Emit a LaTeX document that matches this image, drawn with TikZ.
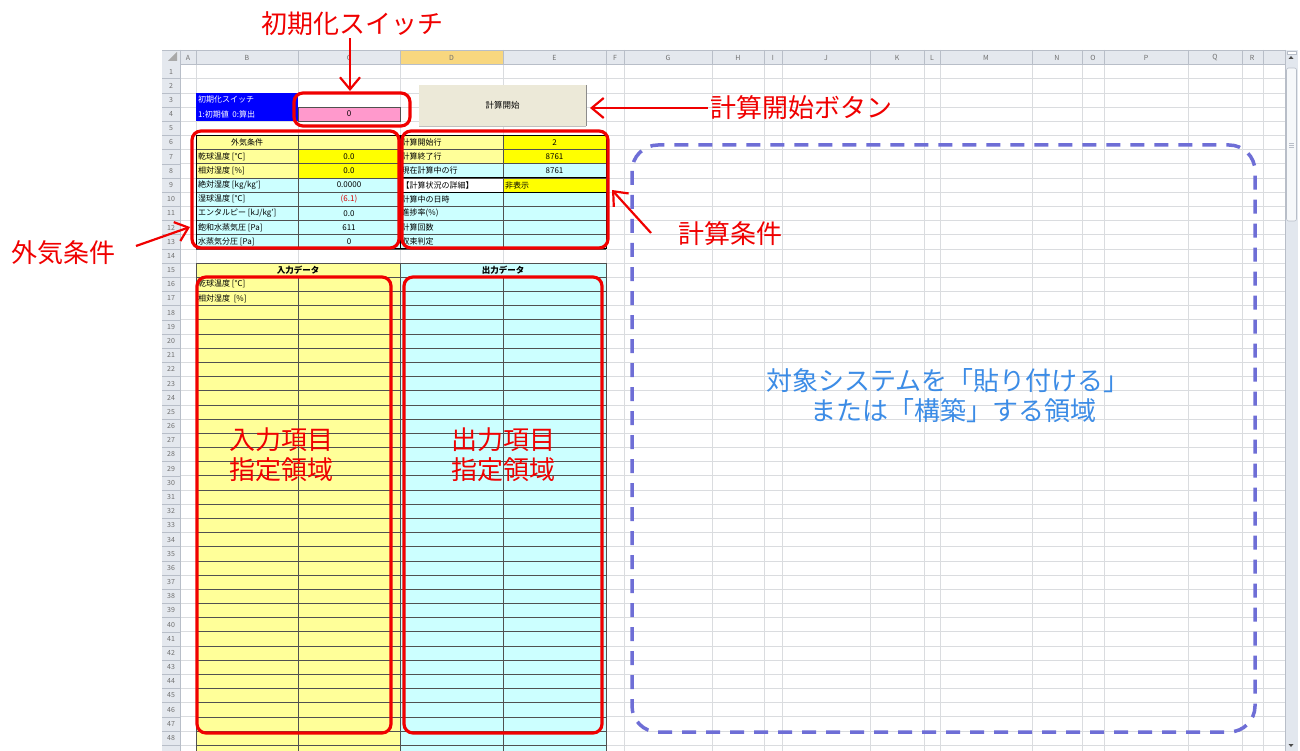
\documentclass[tikz,border=0pt]{standalone}
\usepackage{fontspec}
\setmainfont{Noto Sans CJK JP}
\usetikzlibrary{arrows.meta}
\definecolor{ly}{HTML}{FFFF99}
\definecolor{yy}{HTML}{FFFF00}
\definecolor{lc}{HTML}{CCFFFF}
\definecolor{pk}{HTML}{FF99CC}
\definecolor{bl}{HTML}{0000FF}
\definecolor{btnc}{HTML}{ECE9D8}
\definecolor{gridc}{HTML}{DADCDF}
\definecolor{hdr}{HTML}{E4E8EE}
\definecolor{hdrsel}{HTML}{F8D77F}
\definecolor{hdrline}{HTML}{B8BEC8}
\definecolor{annred}{HTML}{F00000}
\definecolor{dashc}{HTML}{6E6ED6}
\definecolor{txtblue}{HTML}{3C8CE6}
\definecolor{cellline}{HTML}{505050}
\definecolor{numc}{HTML}{707070}
\definecolor{sbar}{HTML}{E2E7EE}
\begin{document}
\begin{tikzpicture}[x=1pt,y=-1pt,
  grid/.style={draw=gridc, line width=0.6pt},
  cline/.style={draw=cellline, line width=0.6pt},
  ct/.style={inner sep=0pt, font=\fontsize{8}{9}\selectfont},
  ctl/.style={ct, anchor=west},
  rownum/.style={inner sep=0pt, text=numc, font=\fontsize{7}{8}\selectfont},
  redbox/.style={draw=annred, line width=3.2pt, rounded corners=9pt},
  arr/.style={draw=annred, line width=2.2pt, -{Straight Barb[length=12pt,width=20pt]}},
  ann/.style={text=annred, font=\fontsize{26}{30}\selectfont, inner sep=2pt, align=center},
  btnst/.style={fill=btnc, minimum width=167pt, minimum height=41pt, inner sep=0pt, font=\fontsize{8.5}{9}\selectfont}
]
\useasboundingbox (0,0) rectangle (1300,751);
\fill[white] (0,0) rectangle (1300,751);
\begin{scope}
\clip (162,50) rectangle (1298,751);
% sheet grid
\foreach \k in {0,...,49} \draw[grid] (180,{64.5+\k*14.18}) -- (1285,{64.5+\k*14.18});
\foreach \x in {180,196,298,400,503,606,624,712,764,782,870,924,940,1032,1082,1104,1188,1242,1263}
  \draw[grid] (\x,64.5) -- (\x,751);
% header row
\fill[hdr] (162,50) rectangle (1285,64.5);
\fill[hdrsel] (400,50) rectangle (503,64.5);
\draw[hdrline, line width=0.6pt] (162,64.5) -- (1285,64.5);
\draw[hdrline, line width=0.6pt] (162,50.3) -- (1285,50.3);
\foreach \x in {180,196,298,400,503,606,624,712,764,782,870,924,940,1032,1082,1104,1188,1242,1263}
  \draw[hdrline, line width=0.5pt] (\x,50) -- (\x,64.5);
\foreach \l/\x in {A/188,B/247,C/349,D/451.5,E/554.5,F/615,G/668,H/738,I/773,J/826,K/897,L/932,M/986,N/1057,O/1093,P/1146,Q/1215,R/1252}
  \node[rownum] (ch\l) at (\x,57.5) {\l};
% row-number column
\fill[hdr] (162,64.5) rectangle (180,751);
\draw[hdrline, line width=0.6pt] (180,50) -- (180,751);
\foreach \k in {1,...,49} \draw[hdrline, line width=0.4pt] (162,{64.5+\k*14.18}) -- (180,{64.5+\k*14.18});
\foreach \k in {1,...,48} \node[rownum] (rn\k) at (171,{64.5+(\k-0.5)*14.18}) {\k};
\fill[numc!60] (177,52) -- (177,61) -- (168,61) -- cycle;
% scrollbar
\fill[sbar] (1285,50) rectangle (1298,751);
\draw[hdrline, line width=0.5pt] (1285,50) -- (1285,751);
\draw[hdrline, fill=white, line width=0.5pt] (1287,51.5) rectangle (1296,54.5);
\draw[hdrline, fill=white!70!sbar, line width=0.6pt, rounded corners=2pt] (1286.5,68) rectangle (1296.5,221);
\draw[hdrline, line width=0.6pt] (1289,143) -- (1294,143) (1289,145) -- (1294,145) (1289,147) -- (1294,147);
\fill[black!70] (1288.5,59) -- (1293.5,59) -- (1291,56) -- cycle;
\fill[black!70] (1288.5,744) -- (1293.5,744) -- (1291,747) -- cycle;
% ---------- cells rows 3-4
\fill[bl] (196,{64.5+2*14.18}) rectangle (298,{64.5+4*14.18});
\fill[white] (298,{64.5+2*14.18}) rectangle (400,{64.5+3*14.18});
\draw[cline, fill=pk] (298,{64.5+3*14.18}) rectangle (400,{64.5+4*14.18});
\node[ctl, text=white] (tB3) at (198,{64.5+2.5*14.18}) {初期化スイッチ};
\node[ctl, text=white] (tB4) at (198,{64.5+3.5*14.18}) {1:初期値\ \ 0:算出};
\node[ct] (tC4) at (349,{64.5+3.5*14.18}) {0};
% button
\node[btnst] (btn) at (502.5,105.5) {計算開始};
\draw[black!45, line width=1pt] (586,85) -- (586,126);
\draw[black!25, line width=0.8pt] (419,126) -- (586,126);
% ---------- table rows 6-13
\foreach \xa/\xb/\r/\col in {196/298/6/ly,298/400/6/ly,400/503/6/ly,503/606/6/yy,
  196/298/7/ly,298/400/7/yy,400/503/7/ly,503/606/7/yy,
  196/298/8/ly,298/400/8/yy,400/503/8/lc,503/606/8/lc,
  196/298/9/lc,298/400/9/lc,400/503/9/white,503/606/9/yy,
  196/606/10/lc,196/606/11/lc,196/606/12/lc,196/606/13/lc}
  \fill[\col] (\xa,{64.5+(\r-1)*14.18}) rectangle (\xb,{64.5+\r*14.18});
\foreach \k in {5,...,13} \draw[cline] (196,{64.5+\k*14.18}) -- (606,{64.5+\k*14.18});
\foreach \x in {196,298,400,503,606} \draw[cline] (\x,{64.5+5*14.18}) -- (\x,{64.5+13*14.18});
\draw[black, line width=1pt] (196,{64.5+5*14.18}) rectangle (400,{64.5+13*14.18});
\draw[black, line width=1pt] (400,{64.5+5*14.18}) rectangle (606,{64.5+8*14.18});
\draw[black, line width=1pt] (400,{64.5+9*14.18}) rectangle (606,{64.5+13*14.18});
% texts column B
\node[ct] (tB6) at (247,{64.5+5.5*14.18}) {外気条件};
\foreach \r/\t in {7/{乾球温度 [℃]},8/{相対湿度 [\%]},9/{絶対湿度 [kg/kg']},10/{湿球温度 [℃]},11/{エンタルピー [kJ/kg']},12/{飽和水蒸気圧 [Pa]},13/{水蒸気分圧 [Pa]}}
  \node[ctl] (tB\r) at (198,{64.5+(\r-0.5)*14.18}) {\t};
\foreach \r/\t in {7/0.0,8/0.0,9/0.0000,11/0.0,12/611,13/0}
  \node[ct] (tC\r) at (349,{64.5+(\r-0.5)*14.18}) {\t};
\node[ct, text=red!85!black] (tC10) at (349,{64.5+9.5*14.18}) {(6.1)};
\foreach \r/\t in {6/計算開始行,7/計算終了行,8/現在計算中の行,9/【計算状況の詳細】,10/計算中の日時,11/{進捗率(\%)},12/計算回数,13/収束判定}
  \node[ctl] (tD\r) at (401.5,{64.5+(\r-0.5)*14.18}) {\t};
\node[ct] (tE6) at (554.5,{64.5+5.5*14.18}) {2};
\node[ct] (tE7) at (554.5,{64.5+6.5*14.18}) {8761};
\node[ct] (tE8) at (554.5,{64.5+7.5*14.18}) {8761};
\node[ctl] (tE9) at (505,{64.5+8.5*14.18}) {非表示};
% ---------- input / output data
\fill[ly] (196,{64.5+14*14.18}) rectangle (400,760);
\fill[lc] (400,{64.5+14*14.18}) rectangle (606,760);
\foreach \k in {14,...,49} \draw[cline, line width=0.5pt] (196,{64.5+\k*14.18}) -- (606,{64.5+\k*14.18});
\foreach \x in {196,400,606} \draw[cline] (\x,{64.5+14*14.18}) -- (\x,760);
\foreach \x in {298,503} \draw[cline] (\x,{64.5+15*14.18}) -- (\x,760);
\node[ct, font=\fontsize{8.5}{9}\selectfont\bfseries] (tIn) at (298,{64.5+14.5*14.18}) {入力データ};
\node[ct, font=\fontsize{8.5}{9}\selectfont\bfseries] (tOut) at (503,{64.5+14.5*14.18}) {出力データ};
\node[ctl] (tB16) at (198,{64.5+15.5*14.18}) {乾球温度 [℃]};
\node[ctl] (tB17) at (198,{64.5+16.5*14.18}) {相対湿度\ \ [\%]};
\end{scope}
% ---------- red annotation boxes
\draw[redbox] (294,93) rectangle (410,126);
\draw[redbox] (192,131) rectangle (399,248);
\draw[redbox] (402,131) rectangle (608,248);
\draw[redbox] (197,277) rectangle (391,733);
\draw[redbox] (404,277) rectangle (602,733);
\coordinate (r1top) at (350,91);
% ---------- dashed region
\draw[dashc, line width=3.5pt, dash pattern=on 14pt off 10pt, rounded corners=26pt] (632,145) rectangle (1255,732);
\node[text=txtblue, font=\fontsize{26}{30}\selectfont, align=center] (tgt) at (948,396) {対象システムを「貼り付ける」\\\ \ または「構築」する領域};
% ---------- labels and arrows
\node[ann] (lab1) at (352,24) {初期化スイッチ};
\draw[arr] (lab1.south -| r1top) -- (r1top);
\node[ann, anchor=west] (lab2) at (708,108) {計算開始ボタン};
\draw[arr] (lab2.west) -- (590,108);
\node[ann] (lab3) at (63,253) {外気条件};
\coordinate (a3s) at (136,246);
\coordinate (a3e) at (190,227);
\draw[arr] (a3s) -- (a3e);
\node[ann] (lab4) at (730,234) {計算条件};
\coordinate (a4s) at (651,233);
\coordinate (a4e) at (612,190);
\draw[arr] (a4s) -- (a4e);
\node[ann] (lab5) at (281,455) {入力項目\\指定領域};
\node[ann] (lab6) at (503,455) {出力項目\\指定領域};
\end{tikzpicture}
\end{document}
